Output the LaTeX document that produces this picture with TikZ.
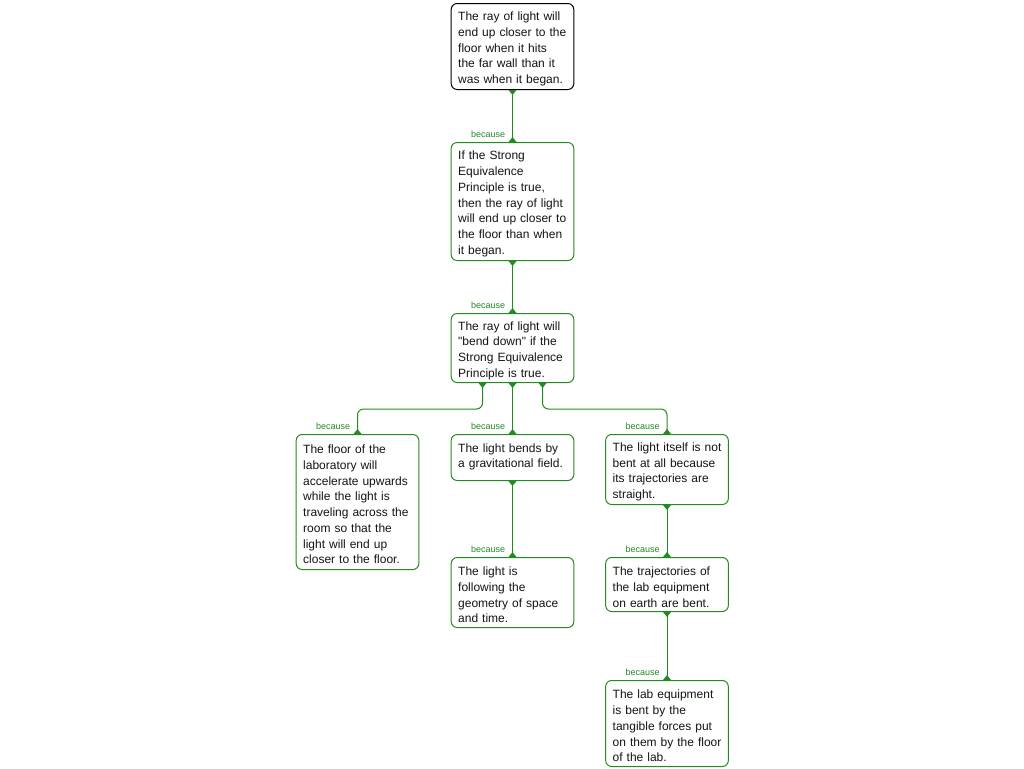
\documentclass[tikz,border=0pt]{standalone}
\usepackage{fontspec}
\setmainfont{Liberation Sans}[Ligatures=TeXOff]
\usetikzlibrary{calc}
\definecolor{lk}{RGB}{34,139,34}
\definecolor{tx}{RGB}{20,20,20}
\newcommand\flare[2]{\fill[lk] ($(#1)+(-4,0)$) -- ($(#1)+(4,0)$) -- ($(#1)+(0,#2)$) -- cycle;}
\begin{document}
\begin{tikzpicture}[x=0.75pt,y=-0.75pt,
  box/.style={draw=lk, line width=0.75pt, rounded corners=4.5pt, fill=white,
    text=tx, text width=86pt, inner xsep=3pt, inner ysep=1pt, align=left,
    anchor=north, font=\fontsize{9pt}{11.8pt}\selectfont,
    execute at begin node={\leftskip=2.25pt\relax\rule{0pt}{10.3pt}}},
  link/.style={draw=lk, line width=0.75pt},
  lab/.style={text=lk, font=\fontsize{6.75pt}{8pt}\selectfont, inner sep=0pt, anchor=base east}]
\useasboundingbox (0,0) rectangle (1024,768);

\node[box, draw=black, minimum height=64.5pt] (a) at (512.5,3)
  {The ray of light will\\end up closer to the\\floor when it hits\\the far wall than it\\was when it began.};
\node[box, minimum height=88.5pt] (b) at (512.5,142)
  {If the Strong\\Equivalence\\Principle is true,\\then the ray of light\\will end up closer to\\the floor than when\\it began.};
\node[box, minimum height=51.75pt] (c) at (512.5,313)
  {The ray of light will\\"bend down" if the\\Strong Equivalence\\Principle is true.};
\node[box, minimum height=101.25pt] (d) at (357.5,434)
  {The floor of the\\laboratory will\\accelerate upwards\\while the light is\\traveling across the\\room so that the\\light will end up\\closer to the floor.};
\node[box, minimum height=34.5pt] (e) at (512.5,434)
  {The light bends by\\a gravitational field.\rule[-6.5pt]{0pt}{6.5pt}};
\node[box, minimum height=52.5pt] (f) at (667,434)
  {The light itself is not\\bent at all because\\its trajectories are\\straight.};
\node[box, minimum height=52.5pt] (g) at (512.5,557)
  {The light is\\following the\\geometry of space\\and time.};
\node[box, minimum height=40.5pt] (h) at (667,557)
  {The trajectories of\\the lab equipment\\on earth are bent.};
\node[box, minimum height=64.5pt] (i) at (667,680)
  {The lab equipment\\is bent by the\\tangible forces put\\on them by the floor\\of the lab.};

\coordinate (c1) at ($(c.south)+(-30,0)$);
\coordinate (c2) at (c.south);
\coordinate (c3) at ($(c.south)+(30,0)$);

\draw[link] (a.south) -- (b.north);
\draw[link] (b.south) -- (c.north);
\draw[link, rounded corners=4.5pt] (c1) -- ++(0,26) -| (d.north);
\draw[link] (c2) -- (e.north);
\draw[link, rounded corners=4.5pt] (c3) -- ++(0,26) -| (f.north);
\draw[link] (e.south) -- (g.north);
\draw[link] (f.south) -- (h.north);
\draw[link] (h.south) -- (i.north);

\flare{a.south}{5} \flare{b.south}{5} \flare{c1}{5} \flare{c2}{5} \flare{c3}{5}
\flare{e.south}{5} \flare{f.south}{5} \flare{h.south}{5}
\flare{b.north}{-5} \flare{c.north}{-5} \flare{d.north}{-5} \flare{e.north}{-5}
\flare{f.north}{-5} \flare{g.north}{-5} \flare{h.north}{-5} \flare{i.north}{-5}

\node[lab] (lb) at ($(b.north)+(-7,-5)$) {because};
\node[lab] (lc) at ($(c.north)+(-7,-5)$) {because};
\node[lab] (ld) at ($(d.north)+(-7,-5)$) {because};
\node[lab] (le) at ($(e.north)+(-7,-5)$) {because};
\node[lab] (lf) at ($(f.north)+(-7,-5)$) {because};
\node[lab] (lg) at ($(g.north)+(-7,-5)$) {because};
\node[lab] (lh) at ($(h.north)+(-7,-5)$) {because};
\node[lab] (li) at ($(i.north)+(-7,-5)$) {because};
\end{tikzpicture}
\end{document}
